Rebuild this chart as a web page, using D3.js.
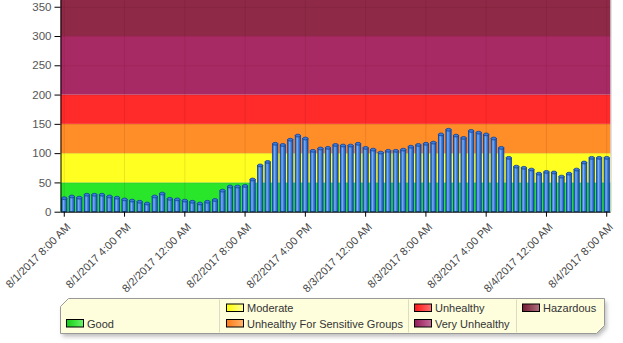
<!DOCTYPE html>
<html>
<head>
<meta charset="utf-8">
<script src="https://cdnjs.cloudflare.com/ajax/libs/d3/7.8.5/d3.min.js"></script>
<style>
  html, body { margin: 0; padding: 0; background: #fff; }
  svg { display: block; }
  svg text { font-family: "Liberation Sans", Arial, sans-serif; }
</style>
</head>
<body>
<svg id="chart" width="623" height="343"></svg>
<script>
// Hourly AQI readings, 8/1/2017 8:00 AM through 8/4/2017 8:00 AM
const startTime = new Date(2017, 7, 1, 8, 0);
const aqiValues = [
  23, 26, 24, 29, 29, 29, 26, 24, 21, 19, 17, 14, 26, 31, 22, 21,
  19, 17, 14, 17, 20, 36, 43, 43, 44, 55, 79, 85, 116, 114, 123, 130,
  125, 104, 108, 109, 114, 113, 113, 116, 109, 106, 101, 104, 104, 106, 111, 114,
  116, 118, 132, 140, 130, 126, 138, 135, 132, 125, 109, 92, 77, 75, 72, 65,
  68, 67, 60, 65, 72, 84, 92, 92, 92
];
const hours = aqiValues.map((v, i) => new Date(startTime.getTime() + i * 3600000));

// AQI category bands
const bandNames = ["Good", "Moderate", "Unhealthy For Sensitive Groups", "Unhealthy", "Very Unhealthy", "Hazardous"];
const bandLows  = [0, 50, 100, 150, 200, 300];
const bandHighs = [50, 100, 150, 200, 300, 500];
const bandColors = ["#2ae62a", "#ffff22", "#ff8e28", "#ff2a2a", "#a82a64", "#8e2a48"];
const swatchFrom = ["#14cc14", "#ffff00", "#ff7a18", "#ff1414", "#951a58", "#741833"];
const swatchTo   = ["#6cf56c", "#ffff9a", "#ffb56c", "#ff7070", "#c46c98", "#b0707f"];

const yTicks = [0, 50, 100, 150, 200, 250, 300, 350];
const tickEvery = 8;

const svg = d3.select("#chart");
const plot = { left: 60.5, right: 610.5, top: 0, bottom: 211.7 };

const x = d3.scaleBand()
  .domain(hours.map(d => +d))
  .range([plot.left, plot.right])
  .paddingInner(0.2)
  .paddingOuter(0.1);

const y = d3.scaleLinear()
  .domain([0, 361.5])
  .range([plot.bottom, plot.top]);

const defs = svg.append("defs");

// Bar body: cylinder-like shading
const barGrad = defs.append("linearGradient").attr("id", "barGrad")
  .attr("x1", "0%").attr("x2", "100%").attr("y1", "0%").attr("y2", "0%");
[["0%", "#0d45a6"], ["18%", "#4583da"], ["38%", "#7cb0f0"], ["58%", "#4a86dc"], ["85%", "#2a62c2"], ["100%", "#0e45a4"]]
  .forEach(([o, c]) => barGrad.append("stop").attr("offset", o).attr("stop-color", c));

bandNames.forEach((n, i) => {
  const g = defs.append("linearGradient").attr("id", "sw" + i)
    .attr("x1", "0%").attr("x2", "100%").attr("y1", "0%").attr("y2", "0%");
  g.append("stop").attr("offset", "0%").attr("stop-color", swatchFrom[i]);
  g.append("stop").attr("offset", "100%").attr("stop-color", swatchTo[i]);
});

const shadow = defs.append("filter").attr("id", "legendShadow")
  .attr("x", "-5%").attr("y", "-30%").attr("width", "110%").attr("height", "170%");
shadow.append("feGaussianBlur").attr("stdDeviation", 2);

// Category bands behind the bars
const bandGroup = svg.append("g");
bandGroup.selectAll("rect")
  .data(bandNames)
  .join("rect")
  .attr("x", plot.left)
  .attr("width", plot.right - plot.left)
  .attr("y", (d, i) => Math.max(plot.top, y(bandHighs[i])))
  .attr("height", (d, i) => y(bandLows[i]) - Math.max(plot.top, y(bandHighs[i])))
  .attr("fill", (d, i) => bandColors[i]);

// Gridlines
const tickHours = hours.filter((d, i) => i % tickEvery === 0);
svg.append("g").selectAll("line")
  .data(yTicks.slice(1))
  .join("line")
  .attr("x1", plot.left).attr("x2", plot.right)
  .attr("y1", d => y(d) + 0.5).attr("y2", d => y(d) + 0.5)
  .attr("stroke", "rgba(80,0,0,0.10)");
svg.append("g").selectAll("line")
  .data(tickHours)
  .join("line")
  .attr("x1", d => x(+d) + x.bandwidth() / 2).attr("x2", d => x(+d) + x.bandwidth() / 2)
  .attr("y1", plot.top).attr("y2", plot.bottom)
  .attr("stroke", "rgba(80,0,0,0.10)");

// Bars
const bars = svg.append("g");
bars.selectAll("rect")
  .data(aqiValues)
  .join("rect")
  .attr("x", (d, i) => x(+hours[i]) + 0.4)
  .attr("width", x.bandwidth() - 0.8)
  .attr("y", d => y(d))
  .attr("height", d => plot.bottom - y(d))
  .attr("fill", "url(#barGrad)")
  .attr("stroke", "#0b42a0")
  .attr("stroke-width", 0.8);
bars.selectAll("ellipse")
  .data(aqiValues)
  .join("ellipse")
  .attr("cx", (d, i) => x(+hours[i]) + x.bandwidth() / 2)
  .attr("cy", d => y(d))
  .attr("rx", x.bandwidth() / 2 - 0.4)
  .attr("ry", 1.4)
  .attr("fill", "#3f7bd6")
  .attr("stroke", "#0b42a0")
  .attr("stroke-width", 0.8);

// Right plot edge
svg.append("line")
  .attr("x1", plot.right + 0.5).attr("x2", plot.right + 0.5)
  .attr("y1", plot.top).attr("y2", plot.bottom)
  .attr("stroke", "#c8c8c8");

// Y axis
const yAxis = svg.append("g")
  .attr("transform", `translate(${plot.left},0)`)
  .call(d3.axisLeft(y).tickValues(yTicks).tickSize(6).tickPadding(3));
yAxis.attr("font-family", null).attr("font-size", null);
yAxis.select(".domain").attr("stroke", "#000").attr("d", `M0.5,${plot.top}V${plot.bottom}`);
yAxis.selectAll(".tick line").attr("stroke", "#000");
yAxis.selectAll(".tick text").attr("fill", "#555").style("font-size", "11.5px");

// X axis
const fmt = d3.timeFormat("%-m/%-d/%Y %-I:%M %p");
const xAxis = svg.append("g")
  .attr("transform", `translate(0,${plot.bottom})`)
  .call(d3.axisBottom(x)
    .tickValues(tickHours.map(d => +d))
    .tickFormat(d => fmt(new Date(d)))
    .tickSize(5));
xAxis.attr("font-family", null).attr("font-size", null);
xAxis.select(".domain").attr("stroke", "#000").attr("d", `M${plot.left},0.5H${plot.right}`);
xAxis.selectAll(".tick line").attr("stroke", "#000");
xAxis.selectAll(".tick text")
  .attr("fill", "#444")
  .style("font-size", "11px")
  .attr("text-anchor", "end")
  .attr("y", 0)
  .attr("dy", null)
  .attr("transform", "translate(7,16) rotate(-45)");

// Legend
const lg = { x: 60.5, y: 298.5, w: 544, h: 35, cut: 8 };
const legendPath = `M${lg.x},${lg.y + lg.cut} L${lg.x + lg.cut},${lg.y} H${lg.x + lg.w} V${lg.y + lg.h - lg.cut} L${lg.x + lg.w - lg.cut},${lg.y + lg.h} H${lg.x} Z`;
svg.append("path")
  .attr("d", legendPath)
  .attr("transform", "translate(2,3)")
  .attr("fill", "#bbb")
  .attr("filter", "url(#legendShadow)");
svg.append("path")
  .attr("d", legendPath)
  .attr("fill", "#fefedd")
  .attr("stroke", "#999");

const columnEdges = [219.5, 408.5, 516.5];
svg.append("g").selectAll("line")
  .data(columnEdges)
  .join("line")
  .attr("x1", d => d).attr("x2", d => d)
  .attr("y1", lg.y + 1).attr("y2", lg.y + lg.h - 1)
  .attr("stroke", "#dcdcc4");

// Entry positions by column / row
const entryCol = [0, 1, 1, 2, 2, 3];
const entryRow = [1, 0, 1, 0, 1, 0];
const colX = [66, 226, 414, 522];
const rowY = [303.5, 319];

const entries = svg.append("g").selectAll("g")
  .data(bandNames)
  .join("g")
  .attr("transform", (d, i) => `translate(${colX[entryCol[i]]},${rowY[entryRow[i]]})`);
entries.append("rect")
  .attr("x", 0.5).attr("y", 0.5)
  .attr("width", 17).attr("height", 7.5)
  .attr("fill", (d, i) => `url(#sw${i})`)
  .attr("stroke", "#000");
entries.append("text")
  .attr("x", 21).attr("y", 8.5)
  .attr("fill", "#333")
  .style("font-size", "11px")
  .text(d => d);
</script>
</body>
</html>
